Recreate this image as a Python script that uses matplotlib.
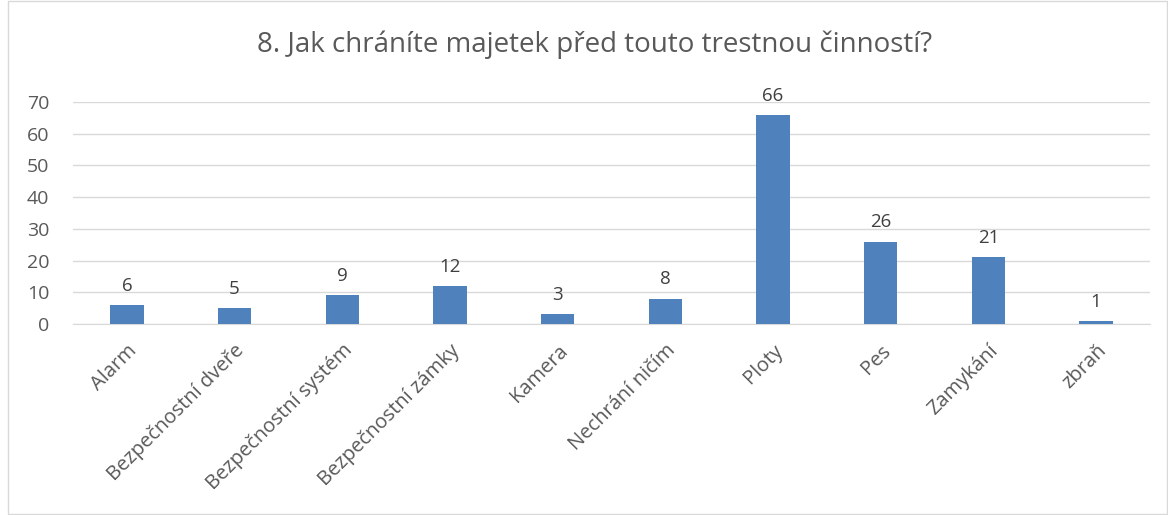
import matplotlib.pyplot as plt
from matplotlib.patches import Rectangle

categories = ["Alarm", "Bezpečnostní dveře", "Bezpečnostní systém", "Bezpečnostní zámky",
              "Kamera", "Nechrání ničím", "Ploty", "Pes", "Zamykání", "zbraň"]
values = [6, 5, 9, 12, 3, 8, 66, 26, 21, 1]
yticks = [0, 10, 20, 30, 40, 50, 60, 70]
title = "8. Jak chráníte majetek před touto trestnou činností?"

plt.rcParams['font.family'] = ['Open Sans', 'DejaVu Sans']
txt = '#595959'

fig = plt.figure(figsize=(11.68, 5.15), dpi=100)
fig.patches.append(Rectangle((8 / 1168, 0.002), 1 - 9 / 1168, 0.996, transform=fig.transFigure,
                             fill=False, edgecolor='#d9d9d9', linewidth=1))
ax = fig.add_axes([73 / 1168, 1 - 324 / 515, (1150 - 73) / 1168, (324 - 102) / 515])

x = range(len(categories))
bars = ax.bar(x, values, width=0.31, color='#4f81bd', zorder=3)
for b, v in zip(bars, values):
    ax.text(b.get_x() + b.get_width() / 2, v + 3.2, str(v), ha='center', va='bottom',
            fontsize=13.5, color='#404040')

ax.set_xlim(-0.5, len(categories) - 0.5)
ax.set_ylim(0, 70)
ax.set_yticks(yticks)
ax.yaxis.grid(True, color='#d9d9d9', linewidth=1, zorder=0)
ax.tick_params(axis='y', length=0, labelsize=14, labelcolor=txt, pad=17)
ax.set_xticks(list(x))
ax.set_xticklabels(categories, rotation=45, ha='right', rotation_mode='anchor',
                   fontsize=14.5, color=txt)
ax.tick_params(axis='x', length=0, pad=12)
for s in ['top', 'right', 'left']:
    ax.spines[s].set_visible(False)
ax.spines['bottom'].set_color('#d9d9d9')

fig.text(595 / 1168, 1 - 45 / 515, title, ha='center', va='center', fontsize=20, color=txt)

fig.savefig('out.png', dpi=100)
